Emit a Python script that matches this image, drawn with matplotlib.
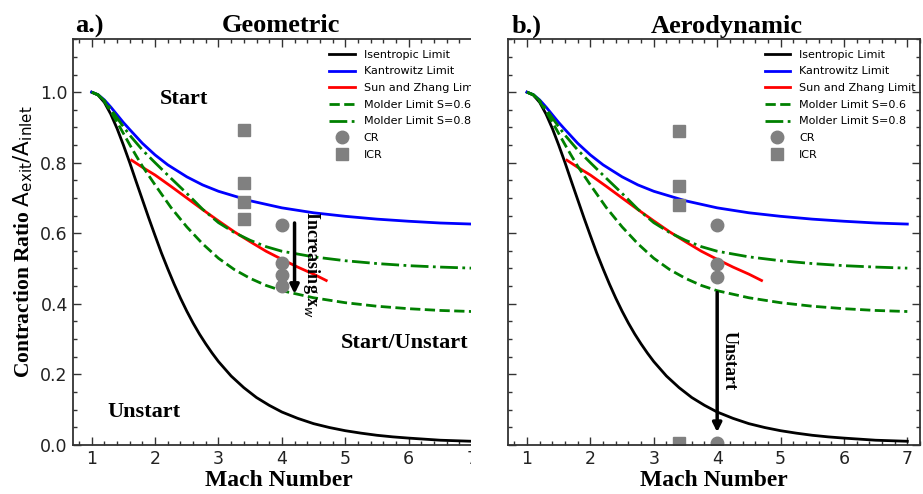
import numpy as np
import matplotlib.pyplot as plt
from matplotlib.patches import Rectangle

# limit curves (Mach number, contraction ratio)
mach_isen = [1.0, 1.1, 1.2, 1.3, 1.4, 1.5, 1.6, 1.7, 1.8, 1.9, 2.0, 2.1, 2.2, 2.3, 2.4,
             2.5, 2.6, 2.7, 2.8, 2.9, 3.0, 3.2, 3.4, 3.6, 3.8, 4.0, 4.25, 4.5, 4.75, 5.0,
             5.25, 5.5, 5.75, 6.0, 6.5, 7.0]
cr_isen = [1.0, 0.992, 0.971, 0.938, 0.897, 0.850, 0.800, 0.747, 0.695, 0.643, 0.593, 0.544,
           0.499, 0.456, 0.416, 0.379, 0.345, 0.314, 0.286, 0.260, 0.236, 0.195, 0.162, 0.134,
           0.112, 0.093, 0.075, 0.060, 0.049, 0.040, 0.033, 0.027, 0.0225, 0.019, 0.013, 0.010]

mach_kan = [1.0, 1.1, 1.2, 1.3, 1.4, 1.5, 1.6, 1.8, 2.0, 2.2, 2.5, 2.75, 3.0, 3.5, 4.0,
            4.5, 5.0, 5.5, 6.0, 6.5, 7.0]
cr_kan = [1.0, 0.993, 0.978, 0.958, 0.936, 0.914, 0.894, 0.855, 0.822, 0.794, 0.760, 0.737,
          0.719, 0.692, 0.672, 0.658, 0.648, 0.640, 0.634, 0.629, 0.626]

mach_sz = [1.63, 1.8, 2.0, 2.25, 2.5, 2.75, 3.0, 3.25, 3.5, 3.75, 4.0, 4.25, 4.5, 4.7]
cr_sz = [0.807, 0.787, 0.765, 0.733, 0.700, 0.667, 0.635, 0.604, 0.576, 0.549, 0.526,
         0.504, 0.484, 0.466]

mach_m6 = [1.0, 1.1, 1.2, 1.3, 1.4, 1.5, 1.6, 1.7, 1.8, 2.0, 2.25, 2.5, 2.75, 3.0, 3.25,
           3.5, 3.75, 4.0, 4.5, 5.0, 5.5, 6.0, 6.5, 7.0]
cr_m6 = [1.0, 0.992, 0.973, 0.946, 0.915, 0.883, 0.851, 0.820, 0.790, 0.737, 0.673, 0.618,
         0.570, 0.529, 0.497, 0.472, 0.452, 0.437, 0.417, 0.403, 0.393, 0.386, 0.381, 0.378]

mach_m8 = [1.0, 1.1, 1.2, 1.3, 1.4, 1.5, 1.6, 1.8, 2.0, 2.25, 2.5, 2.75, 3.0, 3.25, 3.5,
           3.75, 4.0, 4.5, 5.0, 5.5, 6.0, 6.5, 7.0]
cr_m8 = [1.0, 0.993, 0.976, 0.953, 0.927, 0.902, 0.878, 0.836, 0.800, 0.756, 0.713, 0.668,
         0.630, 0.602, 0.580, 0.562, 0.549, 0.533, 0.522, 0.514, 0.508, 0.504, 0.501]

# measured inlets
geo_cr_mach = [4.0, 4.0, 4.0, 4.0]
geo_cr = [0.624, 0.517, 0.482, 0.449]
geo_icr_mach = [3.4, 3.4, 3.4, 3.4]
geo_icr = [0.892, 0.742, 0.690, 0.640]

aero_cr_mach = [4.0, 4.0, 4.0, 4.0]
aero_cr = [0.622, 0.513, 0.476, 0.005]
aero_icr_mach = [3.4, 3.4, 3.4, 3.4]
aero_icr = [0.891, 0.735, 0.681, 0.005]

W, H = 923, 494
fig = plt.figure(figsize=(W / 100, H / 100), dpi=100)
plt.rcParams['mathtext.fontset'] = 'dejavusans'

serif = 'Liberation Serif'
ax_w = 412 / W
ax_h = 405.5 / H
ax_b = 1 - 444.8 / H
ax1 = fig.add_axes([72.7 / W, ax_b, ax_w, ax_h], zorder=0)
ax2 = fig.add_axes([508 / W, ax_b, ax_w, ax_h], zorder=2)


def draw_panel(ax, cr_m, cr_v, icr_m, icr_v):
    ax.plot(mach_isen, cr_isen, color='black', lw=2, label='Isentropic Limit')
    ax.plot(mach_kan, cr_kan, color='blue', lw=2, label='Kantrowitz Limit')
    ax.plot(mach_sz, cr_sz, color='red', lw=2, label='Sun and Zhang Limit')
    ax.plot(mach_m6, cr_m6, color='green', lw=2, ls='--', label='Molder Limit S=0.6')
    ax.plot(mach_m8, cr_m8, color='green', lw=2, ls='-.', label='Molder Limit S=0.8')
    ax.plot(cr_m, cr_v, 'o', color='gray', ms=9, label='CR')
    ax.plot(icr_m, icr_v, 's', color='gray', ms=9, label='ICR')

    ax.set_xlim(0.7, 7.2)
    ax.set_ylim(0, 1.15)
    ax.set_xticks([1, 2, 3, 4, 5, 6, 7])
    ax.set_yticks([0.0, 0.2, 0.4, 0.6, 0.8, 1.0])
    ax.set_xticks(np.arange(0.8, 7.21, 0.2), minor=True)
    ax.set_yticks(np.arange(0.0, 1.151, 0.05), minor=True)
    ax.tick_params(which='both', direction='in', top=True, right=True, color='#333333',
                   labelsize=12.5)
    ax.tick_params(which='major', length=6, width=1)
    ax.tick_params(which='minor', length=3, width=1)
    for s in ax.spines.values():
        s.set_linewidth(1.3)
        s.set_color('#333333')
    ax.set_xlabel('Mach Number', fontfamily=serif, fontweight='bold', fontsize=17, labelpad=2)

    ax.legend(loc='upper left', bbox_to_anchor=(0.612, 0.985), frameon=False, fontsize=8,
              handlelength=2.3, labelspacing=0.6, numpoints=1, borderaxespad=0)

    for lbl in ax.get_xticklabels() + ax.get_yticklabels():
        lbl.set_color('#222222')


draw_panel(ax1, geo_cr_mach, geo_cr, geo_icr_mach, geo_icr)
draw_panel(ax2, aero_cr_mach, aero_cr, aero_icr_mach, aero_icr)
ax2.tick_params(labelleft=False)

ax1.set_ylabel('Contraction Ratio $\\mathrm{A_{exit}/A_{inlet}}$', fontfamily=serif,
               fontweight='bold', fontsize=15.5, labelpad=4)

# region labels
ax1.text(2.45, 0.98, 'Start', fontfamily=serif, fontweight='bold', fontsize=16,
         ha='center', va='center')
ax1.text(1.83, 0.093, 'Unstart', fontfamily=serif, fontweight='bold', fontsize=16,
         ha='center', va='center')
ax1.text(5.94, 0.29, 'Start/Unstart', fontfamily=serif, fontweight='bold', fontsize=16,
         ha='center', va='center')

ax1.annotate('', xy=(4.2, 0.42), xytext=(4.2, 0.637),
             arrowprops=dict(arrowstyle='-|>', lw=2.5, color='black', mutation_scale=13))
ax1.text(4.46, 0.51, 'Increasing x$_w$', rotation=-90, fontfamily=serif,
         fontweight='bold', fontsize=13, ha='center', va='center')

ax2.annotate('', xy=(4.0, 0.028), xytext=(4.0, 0.44),
             arrowprops=dict(arrowstyle='-|>', lw=2.5, color='black', mutation_scale=13))
ax2.text(4.18, 0.24, 'Unstart', rotation=-90, fontfamily=serif, fontweight='bold',
         fontsize=13, ha='center', va='center')

# left panel was cropped in the source figure
fig.add_artist(Rectangle((471 / W, 0), 36 / W, 1, transform=fig.transFigure,
                         facecolor='white', edgecolor='none', zorder=1))

# titles
fig.text(281 / W, 1 - 32.5 / H, 'Geometric', fontfamily=serif, fontweight='bold',
         fontsize=19, ha='center', va='baseline')
fig.text(726.7 / W, 1 - 32.5 / H, 'Aerodynamic', fontfamily=serif, fontweight='bold',
         fontsize=19, ha='center', va='baseline')
fig.text(75 / W, 1 - 32.5 / H, 'a.)', fontfamily=serif, fontweight='bold',
         fontsize=19, ha='left', va='baseline')
fig.text(512 / W, 1 - 32.5 / H, 'b.)', fontfamily=serif, fontweight='bold',
         fontsize=19, ha='left', va='baseline')

fig.savefig('out.png', dpi=100)
